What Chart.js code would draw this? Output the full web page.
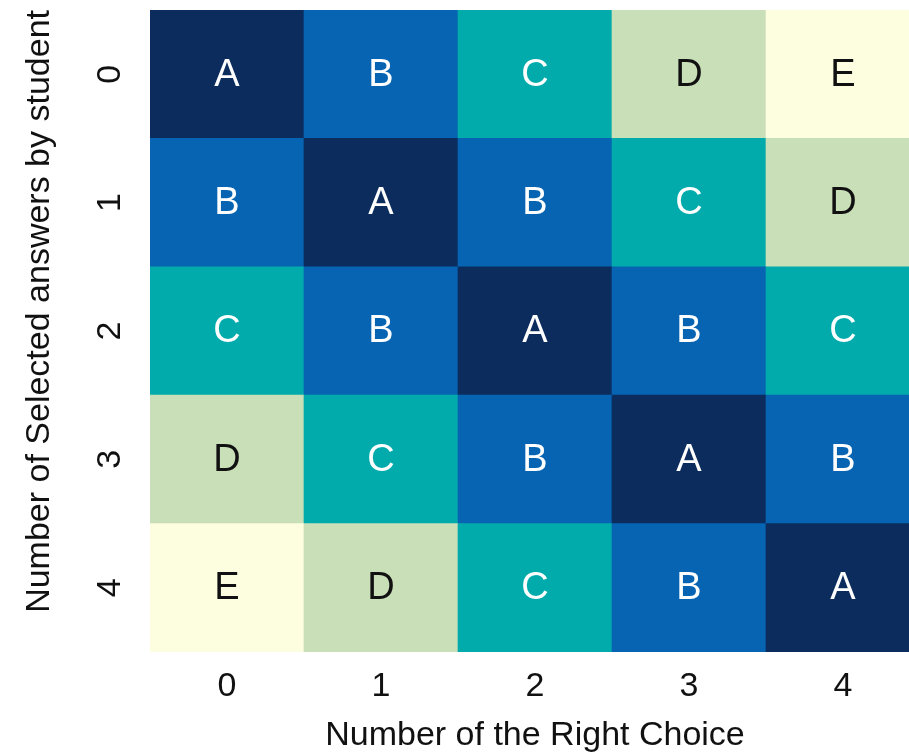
<!DOCTYPE html>
<html>
<head>
<meta charset="utf-8">
<script src="https://cdn.jsdelivr.net/npm/chart.js@4.4.0/dist/chart.umd.min.js"></script>
<style>
  html, body { margin: 0; padding: 0; background: #ffffff; overflow: hidden; }
  #wrap { width: 921px; height: 753px; position: relative; }
</style>
</head>
<body>
<div id="wrap"><canvas id="c" width="921" height="753"></canvas></div>
<script>
// Column categories (Number of the Right Choice)
const xLabels = ['0', '1', '2', '3', '4'];
// Row categories (Number of Selected answers by student), top to bottom
const yLabels = ['0', '1', '2', '3', '4'];
// Cell letters, one array per row (top to bottom)
const row0 = ['A', 'B', 'C', 'D', 'E'];
const row1 = ['B', 'A', 'B', 'C', 'D'];
const row2 = ['C', 'B', 'A', 'B', 'C'];
const row3 = ['D', 'C', 'B', 'A', 'B'];
const row4 = ['E', 'D', 'C', 'B', 'A'];
const rows = [row0, row1, row2, row3, row4];
// Letter categories and their colours
const letters = ['A', 'B', 'C', 'D', 'E'];
const letterColors = ['#0b2c5d', '#0664b3', '#02abab', '#c9dfb7', '#fdfedf'];
const letterTextColors = ['#ffffff', '#ffffff', '#ffffff', '#111111', '#111111'];

const FONT = "'Liberation Sans', Arial, Helvetica, sans-serif";
const nRows = rows.length;

// stacked from the bottom: dataset 0 is the bottom row
const rowOrder = rows.map((_, i) => nRows - 1 - i);
const datasets = rowOrder.map(ri => ({
  label: 'Row ' + yLabels[ri],
  rowIndex: ri,
  data: rows[ri].map(() => 1),
  backgroundColor: rows[ri].map(l => letterColors[letters.indexOf(l)]),
  borderWidth: 0,
  barPercentage: 1,
  categoryPercentage: 1,
  stack: 's'
}));

const cellText = {
  id: 'cellText',
  afterDatasetsDraw(chart) {
    const ctx = chart.ctx;
    ctx.save();
    ctx.font = '38px ' + FONT;
    ctx.textAlign = 'center';
    ctx.textBaseline = 'middle';
    chart.data.datasets.forEach((ds, di) => {
      const meta = chart.getDatasetMeta(di);
      meta.data.forEach((el, ci) => {
        const letter = rows[ds.rowIndex][ci];
        const p = el.getCenterPoint();
        ctx.fillStyle = letterTextColors[letters.indexOf(letter)];
        ctx.fillText(letter, p.x, p.y + 1);
      });
    });
    ctx.restore();
  }
};

new Chart(document.getElementById('c'), {
  type: 'bar',
  data: { labels: xLabels, datasets },
  plugins: [cellText],
  options: {
    responsive: false,
    animation: false,
    layout: { padding: { top: 10, right: 1, left: 0, bottom: 0 } },
    plugins: { legend: { display: false }, tooltip: { enabled: false } },
    scales: {
      x: {
        stacked: true,
        grid: { display: false, drawTicks: false },
        border: { display: false },
        ticks: { color: '#111111', font: { family: FONT, size: 34 }, padding: 14 },
        title: {
          display: true,
          text: 'Number of the Right Choice',
          color: '#111111',
          font: { family: FONT, size: 34, lineHeight: 1.05 },
          padding: { top: 0, bottom: 0 }
        },
        afterFit(s) { s.height = 101; s.paddingLeft = 0; s.paddingRight = 0; }
      },
      y: {
        stacked: true,
        min: 0,
        max: 5,
        grid: { display: false, drawTicks: false },
        border: { display: false },
        afterBuildTicks(s) { s.ticks = yLabels.map((_, i) => ({ value: i + 0.5 })); },
        ticks: {
          color: '#111111',
          font: { family: FONT, size: 34 },
          minRotation: 90,
          maxRotation: 90,
          crossAlign: 'center',
          padding: 30,
          callback: (v) => yLabels[nRows - 1 - Math.floor(v)]
        },
        title: {
          display: true,
          text: 'Number of Selected answers by student',
          color: '#111111',
          align: 'end',
          font: { family: FONT, size: 34, lineHeight: 1.1 },
          padding: { top: 21, bottom: 0 }
        },
        afterFit(s) { s.width = 150; s.paddingTop = 0; s.paddingBottom = 0; }
      }
    }
  }
});
</script>
</body>
</html>
